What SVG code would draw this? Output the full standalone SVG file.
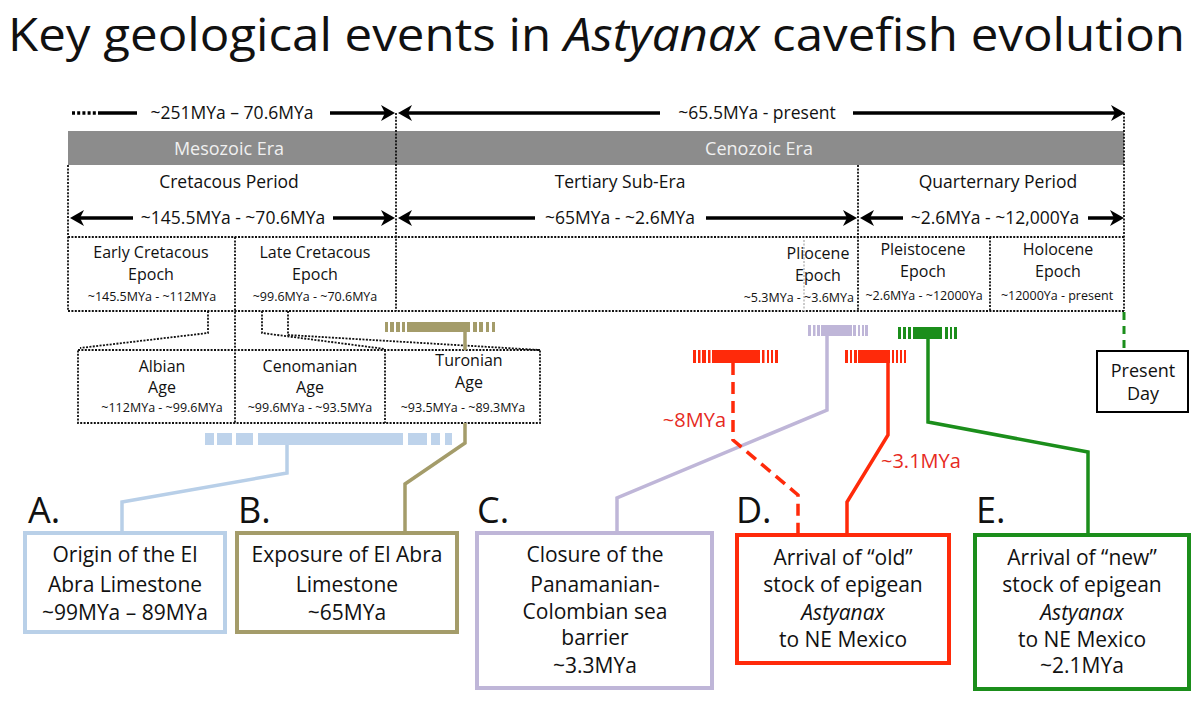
<svg xmlns="http://www.w3.org/2000/svg" width="1200" height="707" viewBox="0 0 1200 707">
<style>
text{font-family:"Open Sans","Liberation Sans",sans-serif;fill:#111;}
.c{text-anchor:middle;}
.t18{font-size:17.5px;}
.t15{font-size:16px;}
.t12{font-size:12.5px;}
.box{font-size:21px;}
.lbl{font-size:36px;}
.dot{stroke:#111;stroke-width:1.8;stroke-dasharray:2 1.4;fill:none;}
.arr{stroke:#000;stroke-width:3.5;fill:none;}
.con{fill:none;stroke-width:3.5;stroke-linejoin:miter;}
</style>
<defs>
<path id="ahR" d="M0,0 L-14,-8 L-10,0 L-14,8 Z" fill="#000"/>
<path id="ahL" d="M0,0 L14,-8 L10,0 L14,8 Z" fill="#000"/>
</defs>
<rect width="1200" height="707" fill="#fff"/>
<text id="title" x="8" y="51" font-size="46" textLength="1177" lengthAdjust="spacingAndGlyphs">Key geological events in <tspan font-style="italic">Astyanax</tspan> cavefish evolution</text>

<g id="timescale">
<rect x="68" y="131" width="1056" height="34" fill="#8c8c8c"/>
<text class="c" x="229" y="155" font-size="18" style="fill:#f0f0f0">Mesozoic Era</text>
<text class="c" x="759" y="155" font-size="18" style="fill:#f0f0f0">Cenozoic Era</text>
<line class="dot" x1="68" y1="165" x2="68" y2="311"/>
<line class="dot" x1="396" y1="113" x2="396" y2="311"/>
<line class="dot" x1="858" y1="165" x2="858" y2="311"/>
<line class="dot" x1="1124" y1="113" x2="1124" y2="311"/>
<line class="dot" x1="68" y1="237" x2="1124" y2="237"/>
<line class="dot" x1="68" y1="311" x2="1124" y2="311"/>
<line class="dot" x1="235" y1="237" x2="235" y2="423"/>
<line class="dot" x1="990" y1="237" x2="990" y2="311"/>
<line x1="804" y1="240" x2="804" y2="311" stroke="#bbb" stroke-width="1.5" stroke-dasharray="2 1.5"/>
<text class="c t18" x="229" y="188">Cretacous Period</text>
<text class="c t18" x="620" y="188">Tertiary Sub-Era</text>
<text class="c t18" x="998" y="188">Quarternary Period</text>
</g>

<g id="range-arrows">
<line class="arr" x1="72" y1="113" x2="98" y2="113" stroke-dasharray="3 2.2"/>
<line class="arr" x1="98" y1="113" x2="137" y2="113"/>
<text class="c t18" x="232" y="119">~251MYa – 70.6MYa</text>
<line class="arr" x1="330" y1="113" x2="390" y2="113"/>
<use href="#ahR" x="395" y="113"/>
<use href="#ahL" x="398" y="113"/>
<line class="arr" x1="404" y1="113" x2="660" y2="113"/>
<text class="c t18" x="757" y="119">~65.5MYa - present</text>
<line class="arr" x1="853" y1="113" x2="1119" y2="113"/>
<use href="#ahR" x="1125" y="113"/>

<use href="#ahL" x="70" y="218"/>
<line class="arr" x1="76" y1="218" x2="133" y2="218"/>
<text class="c t18" x="233" y="224">~145.5MYa - ~70.6MYa</text>
<line class="arr" x1="333" y1="218" x2="390" y2="218"/>
<use href="#ahR" x="395" y="218"/>
<use href="#ahL" x="398" y="218"/>
<line class="arr" x1="404" y1="218" x2="535" y2="218"/>
<text class="c t18" x="620" y="224">~65MYa - ~2.6MYa</text>
<line class="arr" x1="706" y1="218" x2="852" y2="218"/>
<use href="#ahR" x="857" y="218"/>
<use href="#ahL" x="860" y="218"/>
<line class="arr" x1="866" y1="218" x2="903" y2="218"/>
<text class="c t18" x="995" y="224">~2.6MYa - ~12,000Ya</text>
<line class="arr" x1="1088" y1="218" x2="1118" y2="218"/>
<use href="#ahR" x="1124" y="218"/>
</g>

<g id="epochs">
<g id="early-cretaceous">
<text class="c t15" x="151" y="258">Early Cretacous</text>
<text class="c t15" x="151" y="280">Epoch</text>
<text class="c t12" x="152" y="301">~145.5MYa - ~112MYa</text>
</g>
<g id="late-cretaceous">
<text class="c t15" x="315" y="258">Late Cretacous</text>
<text class="c t15" x="315" y="280">Epoch</text>
<text class="c t12" x="315" y="301">~99.6MYa - ~70.6MYa</text>
</g>
<g id="pliocene">
<text class="c t15" x="818" y="259">Pliocene</text>
<text class="c t15" x="818" y="281">Epoch</text>
<text class="t12" x="854" y="302" text-anchor="end">~5.3MYa - ~3.6MYa</text>
</g>
<g id="pleistocene">
<text class="c t15" x="923" y="255">Pleistocene</text>
<text class="c t15" x="923" y="277">Epoch</text>
<text class="c t12" x="924" y="300">~2.6MYa - ~12000Ya</text>
</g>
<g id="holocene">
<text class="c t15" x="1058" y="255">Holocene</text>
<text class="c t15" x="1058" y="277">Epoch</text>
<text class="c t12" x="1057" y="300">~12000Ya - present</text>
</g>
</g>

<g id="ages">
<rect class="dot" x="78" y="350" width="462" height="73"/>
<line class="dot" x1="385" y1="350" x2="385" y2="423"/>
<polyline class="dot" points="208,311 208,333 80,348"/>
<polyline class="dot" points="262,311 262,333 385,349"/>
<polyline class="dot" points="288,311 288,335 540,350"/>
<g id="albian">
<text class="c t15" x="162" y="372">Albian</text>
<text class="c t15" x="162" y="393">Age</text>
<text class="c t12" x="162" y="412">~112MYa - ~99.6MYa</text>
</g>
<g id="cenomanian">
<text class="c t15" x="310" y="372">Cenomanian</text>
<text class="c t15" x="310" y="393">Age</text>
<text class="c t12" x="310" y="412">~99.6MYa - ~93.5MYa</text>
</g>
<g id="turonian">
<text class="c t15" x="469" y="366">Turonian</text>
<text class="c t15" x="469" y="388">Age</text>
<text class="c t12" x="463" y="412">~93.5MYa - ~89.3MYa</text>
</g>
</g>

<g id="bars">
<g fill="#a49c6a">
<rect x="385" y="322" width="3" height="10"/><rect x="390" y="322" width="4" height="10"/><rect x="396" y="322" width="4" height="10"/><rect x="402" y="322" width="3" height="10"/><rect x="407" y="322" width="63" height="10"/><rect x="473" y="322" width="4" height="10"/><rect x="479" y="322" width="4" height="10"/><rect x="486" y="322" width="3" height="10"/><rect x="492" y="322" width="3" height="10"/>
</g>
<g fill="#bed3eb">
<rect x="205" y="433" width="9" height="12"/><rect x="217" y="433" width="15" height="12"/><rect x="236" y="433" width="17" height="12"/><rect x="258" y="433" width="145" height="12"/><rect x="408" y="433" width="19" height="12"/><rect x="431" y="433" width="9" height="12"/><rect x="445" y="433" width="7" height="12"/>
</g>
<g fill="#bfb6d8">
<rect x="808" y="325" width="3" height="11"/><rect x="813" y="325" width="2.5" height="11"/><rect x="817" y="325" width="3" height="11"/><rect x="821" y="325" width="31" height="11"/><rect x="853" y="325" width="3" height="11"/><rect x="858" y="325" width="2" height="11"/><rect x="862" y="325" width="2" height="11"/><rect x="865" y="325" width="3" height="11"/>
</g>
<g fill="#ff2a0a">
<rect x="693" y="350" width="3" height="13"/><rect x="698" y="350" width="2.5" height="13"/><rect x="702" y="350" width="4" height="13"/><rect x="708" y="350" width="2.5" height="13"/><rect x="712" y="350" width="48" height="13"/><rect x="762" y="350" width="2.5" height="13"/><rect x="767" y="350" width="2" height="13"/><rect x="771" y="350" width="2" height="13"/><rect x="775" y="350" width="3" height="13"/>
<rect x="845" y="350" width="3" height="13"/><rect x="850" y="350" width="2" height="13"/><rect x="854" y="350" width="3" height="13"/><rect x="858" y="350" width="32" height="13"/><rect x="892" y="350" width="2" height="13"/><rect x="896" y="350" width="2" height="13"/><rect x="900" y="350" width="2" height="13"/><rect x="904" y="350" width="2" height="13"/>
</g>
<g fill="#1b8e1b">
<rect x="898" y="327" width="3" height="12"/><rect x="903" y="327" width="3" height="12"/><rect x="908" y="327" width="3" height="12"/><rect x="913" y="327" width="29" height="12"/><rect x="945" y="327" width="3" height="12"/><rect x="950" y="327" width="2" height="12"/><rect x="954" y="327" width="3" height="12"/>
</g>
</g>

<g id="connectors">
<polyline class="con" stroke="#b8cfe8" points="287,445 287,473 122,502 122,533"/>
<polyline class="con" stroke="#a49c6a" points="465,332 465,350"/>
<polyline class="con" stroke="#a49c6a" points="465,423 465,443 405,484 405,533"/>
<polyline class="con" stroke="#bfb6d8" points="827,336 827,410 617,498 617,533"/>
<polyline class="con" stroke="#ff2a0a" stroke-dasharray="12 7" points="733,363 733,440 798,495 798,535"/>
<polyline class="con" stroke="#ff2a0a" points="888,363 888,435 847,502 847,535"/>
<polyline class="con" stroke="#1b8e1b" points="928,339 928,422 1088,452 1088,535"/>
<line x1="1124" y1="312" x2="1124" y2="351" stroke="#1b8e1b" stroke-width="3" stroke-dasharray="8 6"/>
<text x="726" y="427" text-anchor="end" font-size="20" style="fill:#e62a1e">~8MYa</text>
<text x="881" y="468" font-size="20" style="fill:#e62a1e">~3.1MYa</text>
</g>

<g id="present-day">
<rect x="1097" y="351" width="91" height="61" fill="#fff" stroke="#000" stroke-width="2"/>
<text class="c" x="1143" y="377" font-size="18">Present</text>
<text class="c" x="1143" y="400" font-size="18">Day</text>
</g>

<g id="event-A">
<text class="lbl" x="28" y="523">A.</text>
<rect x="25" y="533" width="200" height="99" fill="#fff" stroke="#b9d0e8" stroke-width="4"/>
<text class="c box" x="125" y="562">Origin of the El</text>
<text class="c box" x="125" y="592">Abra Limestone</text>
<text class="c box" x="125" y="620">~99MYa – 89MYa</text>
</g>
<g id="event-B">
<text class="lbl" x="238" y="523">B.</text>
<rect x="237" y="533" width="220" height="99" fill="#fff" stroke="#a49c6a" stroke-width="4"/>
<text class="c box" x="347" y="562">Exposure of El Abra</text>
<text class="c box" x="347" y="592">Limestone</text>
<text class="c box" x="347" y="620">~65MYa</text>
</g>
<g id="event-C">
<text class="lbl" x="477" y="523">C.</text>
<rect x="477" y="533" width="235" height="155" fill="#fff" stroke="#bfb6d8" stroke-width="4"/>
<text class="c box" x="595" y="562">Closure of the</text>
<text class="c box" x="595" y="592">Panamanian-</text>
<text class="c box" x="595" y="619">Colombian sea</text>
<text class="c box" x="595" y="645">barrier</text>
<text class="c box" x="595" y="673">~3.3MYa</text>
</g>
<g id="event-D">
<text class="lbl" x="736" y="523">D.</text>
<rect x="737" y="535" width="212" height="128" fill="#fff" stroke="#ff2a0a" stroke-width="4"/>
<text class="c box" x="843" y="565">Arrival of “old”</text>
<text class="c box" x="843" y="592">stock of epigean</text>
<text class="c box" x="843" y="620" font-style="italic">Astyanax</text>
<text class="c box" x="843" y="647">to NE Mexico</text>
</g>
<g id="event-E">
<text class="lbl" x="976" y="523">E.</text>
<rect x="975" y="535" width="214" height="154" fill="#fff" stroke="#1b8e1b" stroke-width="4"/>
<text class="c box" x="1082" y="565">Arrival of “new”</text>
<text class="c box" x="1082" y="592">stock of epigean</text>
<text class="c box" x="1082" y="620" font-style="italic">Astyanax</text>
<text class="c box" x="1082" y="647">to NE Mexico</text>
<text class="c box" x="1082" y="673">~2.1MYa</text>
</g>
</svg>
